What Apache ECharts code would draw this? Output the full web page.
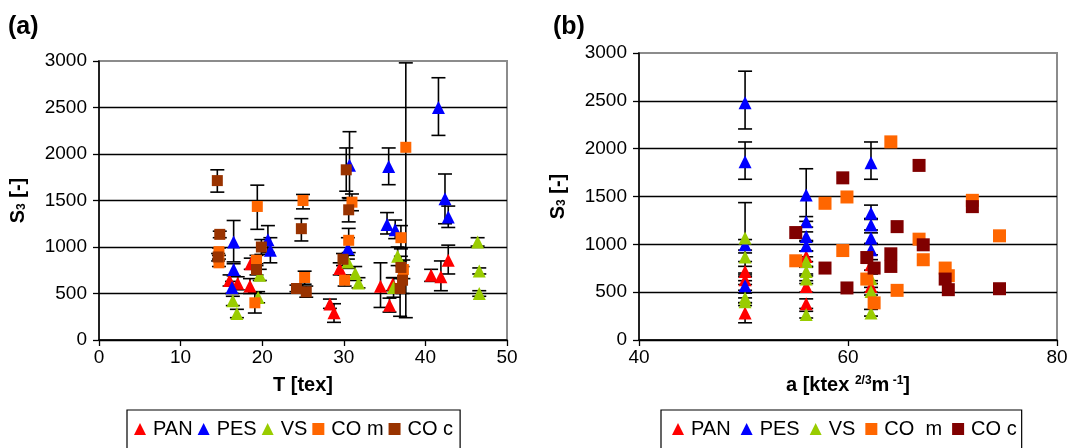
<!DOCTYPE html>
<html>
<head>
<meta charset="utf-8">
<script src="https://cdn.jsdelivr.net/npm/echarts@6/dist/echarts.min.js"></script>
<style>
  html, body { margin: 0; padding: 0; background: #fff; }
  #chart { width: 1073px; height: 448px; }
</style>
</head>
<body>
<div id="chart"></div>
<script>
// Each point: [x, S3, lower error, upper error] (null = no error bar)

// (a) S3 versus yarn count T [tex]
const tPAN = [
  [16.0, 640, 580, 700], [17.0, 610, 540, 680], [18.5, 580, 500, 660],
  [18.6, 820, 760, 880], [28.3, 386, 340, 440], [28.8, 293, 190, 390],
  [29.5, 768, 700, 830], [34.5, 579, 350, 830], [35.6, 375, 300, 450],
  [36.0, 600, 530, 670], [40.7, 697, 630, 760], [41.9, 679, 530, 850],
  [42.8, 857, 710, 1020]
];
const tPES = [
  [16.5, 1054, 840, 1285], [16.5, 758, 690, 820], [16.3, 565, 500, 630],
  [20.7, 1079, 940, 1230], [21.0, 964, 830, 1100], [30.7, 1880, 1520, 2240],
  [30.5, 983, 870, 1100], [35.5, 1865, 1670, 2065], [35.3, 1243, 1140, 1370],
  [36.3, 1186, 1090, 1290], [41.6, 2500, 2200, 2820], [42.4, 1518, 1250, 1785],
  [42.8, 1322, 1210, 1440]
];
const tVS = [
  [16.4, 421, 370, 470], [16.9, 286, 240, 330], [19.5, 458, 400, 520],
  [19.7, 697, 640, 760], [30.5, 839, 770, 910], [31.4, 715, 640, 790],
  [31.8, 614, 560, 670], [36.6, 900, 800, 1000], [36.1, 565, 460, 670],
  [46.4, 1054, 1010, 1100], [46.6, 743, 710, 775], [46.6, 500, 470, 530]
];
const tCOm = [
  [14.7, 950, 910, 990], [14.7, 830, 790, 870], [19.4, 1436, 1190, 1665],
  [19.1, 400, 290, 510], [19.3, 857, 800, 910], [25.0, 1500, 1410, 1565],
  [25.2, 672, 600, 740], [30.1, 643, 580, 700], [30.6, 1072, 940, 1200],
  [31.0, 1482, 1390, 1570], [37.6, 2072, 240, 2980], [37.0, 1100, 980, 1230],
  [37.3, 758, 660, 860]
];
const tCOc = [
  [14.5, 1714, 1590, 1830], [14.8, 1136, 1100, 1170], [14.6, 893, 850, 930],
  [19.9, 1000, 920, 1080], [19.3, 758, 700, 820], [24.8, 1197, 1065, 1305],
  [24.2, 554, 520, 590], [25.4, 518, 460, 580], [29.9, 868, 800, 930],
  [30.3, 1830, 1600, 2065], [30.6, 1400, 1270, 1530], [37.0, 780, 660, 900],
  [37.2, 643, 500, 790], [36.9, 554, 255, 850]
];

// (b) S3 versus twist coefficient a [ktex^2/3 m^-1]
const aPAN = [
  [50.15, 717, 660, 770], [50.15, 630, 580, 680], [50.15, 283, 180, 390],
  [56.0, 873, 820, 930], [56.0, 560, 500, 620], [56.0, 380, 330, 430],
  [62.2, 786, 730, 840], [62.2, 560, 500, 620]
];
const aPES = [
  [50.15, 2480, 2206, 2810], [50.15, 1862, 1680, 2070], [50.15, 995, 940, 1050],
  [50.15, 568, 520, 620], [56.0, 1516, 1240, 1790], [56.0, 1237, 1180, 1290],
  [56.0, 1081, 1030, 1130], [56.0, 984, 930, 1040], [62.2, 1852, 1680, 2070],
  [62.2, 1325, 1270, 1410], [62.2, 1203, 1150, 1260], [62.2, 1065, 1010, 1120],
  [62.2, 943, 890, 1000]
];
const aVS = [
  [50.15, 1065, 700, 1436], [50.15, 867, 820, 910], [50.15, 440, 390, 490],
  [50.15, 400, 360, 440], [56.0, 821, 770, 870], [56.0, 717, 670, 760],
  [56.0, 637, 590, 690], [56.0, 266, 230, 300], [62.2, 508, 470, 550],
  [62.2, 283, 250, 320], [62.2, 640, 590, 690]
];
const aCOm = [
  [55.0, 828, null, null], [57.8, 1429, null, null], [59.5, 935, null, null],
  [59.9, 1495, null, null], [61.8, 637, null, null], [62.5, 388, null, null],
  [64.1, 2071, null, null], [64.7, 519, null, null], [66.8, 1054, null, null],
  [67.2, 839, null, null], [69.3, 752, null, null], [69.6, 672, null, null],
  [71.9, 1460, null, null], [74.5, 1089, null, null]
];
const aCOc = [
  [55.0, 1123, null, null], [57.8, 752, null, null], [59.5, 1695, null, null],
  [59.9, 544, null, null], [61.8, 862, null, null], [62.5, 752, null, null],
  [64.1, 901, null, null], [64.1, 769, null, null], [64.7, 1185, null, null],
  [66.8, 1825, null, null], [67.2, 995, null, null], [69.3, 637, null, null],
  [69.6, 526, null, null], [71.9, 1394, null, null], [74.5, 536, null, null]
];

const seriesNames = ['PAN', 'PES', 'VS', 'CO m', 'CO c'];
const yTicks = { min: 0, max: 3000, interval: 500 };
const xTicksT = { min: 0, max: 50, interval: 10 };
const xTicksA = { min: 40, max: 80, interval: 20 };

const FONT = 'Liberation Sans, Arial, Helvetica, sans-serif';
const RED = '#FF0000', BLUE = '#0000FF', GREEN = '#99CC00', ORANGE = '#FF6600';
const BROWN_A = '#993300', BROWN_B = '#800000';

const chart = echarts.init(document.getElementById('chart'), null, { renderer: 'canvas' });

function points(list) { return list.map(p => [p[0], p[1]]); }
function bars(lists) {
  const out = [];
  lists.forEach(l => l.forEach(p => { if (p[2] != null) out.push([p[0], p[2], p[3]]); }));
  return out;
}

function errorBarSeries(idx, data) {
  return {
    type: 'custom',
    xAxisIndex: idx, yAxisIndex: idx,
    z: 1,
    silent: true,
    data: data,
    encode: { x: 0, y: [1, 2] },
    renderItem: function (params, api) {
      const x = api.value(0);
      const lo = api.coord([x, api.value(1)]);
      const hi = api.coord([x, api.value(2)]);
      const w = 7;
      const st = { stroke: '#000', lineWidth: 1.6 };
      return {
        type: 'group',
        children: [
          { type: 'line', shape: { x1: lo[0], y1: lo[1], x2: hi[0], y2: hi[1] }, style: st },
          { type: 'line', shape: { x1: lo[0] - w, y1: lo[1], x2: lo[0] + w, y2: lo[1] }, style: st },
          { type: 'line', shape: { x1: hi[0] - w, y1: hi[1], x2: hi[0] + w, y2: hi[1] }, style: st }
        ]
      };
    }
  };
}

function scatter(idx, name, list, symbol, size, color) {
  return {
    type: 'scatter', name: name,
    xAxisIndex: idx, yAxisIndex: idx,
    z: 2,
    symbol: symbol, symbolSize: size,
    itemStyle: { color: color, opacity: 1 },
    data: points(list)
  };
}

const plain = v => String(v);

function yAxis(idx) {
  return {
    type: 'value', gridIndex: idx,
    min: yTicks.min, max: yTicks.max, interval: yTicks.interval,
    name: '{n|S}{s|3}{n| [-]}',
    nameLocation: 'middle', nameRotate: 90, nameGap: 71,
    nameTextStyle: {
      rich: {
        n: { fontFamily: FONT, fontSize: 20, fontWeight: 'bold', color: '#000', lineHeight: 20 },
        s: { fontFamily: FONT, fontSize: 12, fontWeight: 'bold', color: '#000', lineHeight: 12, verticalAlign: 'bottom' }
      }
    },
    axisLine: { show: true, lineStyle: { color: '#000', width: 1.5 } },
    axisTick: { show: true, inside: false, length: 6, lineStyle: { color: '#000', width: 1.3 } },
    axisLabel: { fontFamily: FONT, fontSize: 19, color: '#000', margin: 12, formatter: plain },
    splitLine: { show: true, showMaxLine: false, lineStyle: { color: '#000', width: 1.3 } }
  };
}

function xAxis(idx, ticks, name, rich) {
  return {
    type: 'value', gridIndex: idx,
    min: ticks.min, max: ticks.max, interval: ticks.interval,
    name: name, nameLocation: 'middle', nameGap: 35,
    nameTextStyle: { fontFamily: FONT, fontSize: 20, fontWeight: 'bold', color: '#000', rich: rich },
    axisLine: { show: true, onZero: false, lineStyle: { color: '#000', width: 1.5 } },
    axisTick: { show: true, inside: false, length: 6, lineStyle: { color: '#000', width: 1.3 } },
    axisLabel: { fontFamily: FONT, fontSize: 19, color: '#000', margin: 8, formatter: plain },
    splitLine: { show: false }
  };
}

function legend(left, gap, padding, names, colors, formatter) {
  return {
    left: left, top: 410,
    orient: 'horizontal',
    itemGap: gap, itemWidth: 12, itemHeight: 12,
    padding: padding,
    borderColor: '#000', borderWidth: 1.2,
    selectedMode: false,
    formatter: formatter,
    textStyle: { fontFamily: FONT, fontSize: 20, color: '#000', lineHeight: 22, padding: [0, 0, 0, 2] },
    data: names.map((n, i) => ({
      name: n,
      icon: i < 3 ? 'triangle' : 'rect',
      itemStyle: { color: colors[i] }
    }))
  };
}

const supRich = {
  n: { fontFamily: FONT, fontSize: 20, fontWeight: 'bold', color: '#000', lineHeight: 20 },
  p: { fontFamily: FONT, fontSize: 12, fontWeight: 'bold', color: '#000', lineHeight: 12, verticalAlign: 'top' }
};

const option = {
  backgroundColor: '#fff',
  animation: false,
  grid: [
    { left: 99, top: 61, width: 408, height: 279, show: true, borderColor: '#8c8c8c', borderWidth: 2, containLabel: false },
    { left: 639, top: 53, width: 418, height: 287, show: true, borderColor: '#8c8c8c', borderWidth: 2, containLabel: false }
  ],
  xAxis: [
    xAxis(0, xTicksT, 'T [tex]'),
    xAxis(1, xTicksA, '{n|a [ktex }{p|2/3}{n|m}{p| -1}{n|]}', supRich)
  ],
  yAxis: [yAxis(0), yAxis(1)],
  legend: [
    legend(127, 5, [8, 7, 30, 7], seriesNames, [RED, BLUE, GREEN, ORANGE, BROWN_A]),
    legend(661, 10, [8, 5, 30, 11], seriesNames, [RED, BLUE, GREEN, ORANGE, BROWN_B],
      n => (n === 'CO m' ? 'CO  m' : n))
  ],
  graphic: [
    { type: 'text', left: 8, top: 15, style: { text: '(a)', font: 'bold 25px ' + FONT, fill: '#000' } },
    { type: 'text', left: 553, top: 15, style: { text: '(b)', font: 'bold 25px ' + FONT, fill: '#000' } }
  ],
  series: [
    errorBarSeries(0, bars([tPAN, tPES, tVS, tCOm, tCOc])),
    scatter(0, 'PAN', tPAN, 'triangle', 13, RED),
    scatter(0, 'PES', tPES, 'triangle', 13, BLUE),
    scatter(0, 'VS', tVS, 'triangle', 13, GREEN),
    scatter(0, 'CO m', tCOm, 'rect', 11, ORANGE),
    scatter(0, 'CO c', tCOc, 'rect', 11, BROWN_A),
    errorBarSeries(1, bars([aPAN, aPES, aVS, aCOm, aCOc])),
    scatter(1, 'PAN', aPAN, 'triangle', 13, RED),
    scatter(1, 'PES', aPES, 'triangle', 13, BLUE),
    scatter(1, 'VS', aVS, 'triangle', 13, GREEN),
    scatter(1, 'CO m', aCOm, 'rect', 13, ORANGE),
    scatter(1, 'CO c', aCOc, 'rect', 13, BROWN_B)
  ]
};

chart.setOption(option);
</script>
</body>
</html>
